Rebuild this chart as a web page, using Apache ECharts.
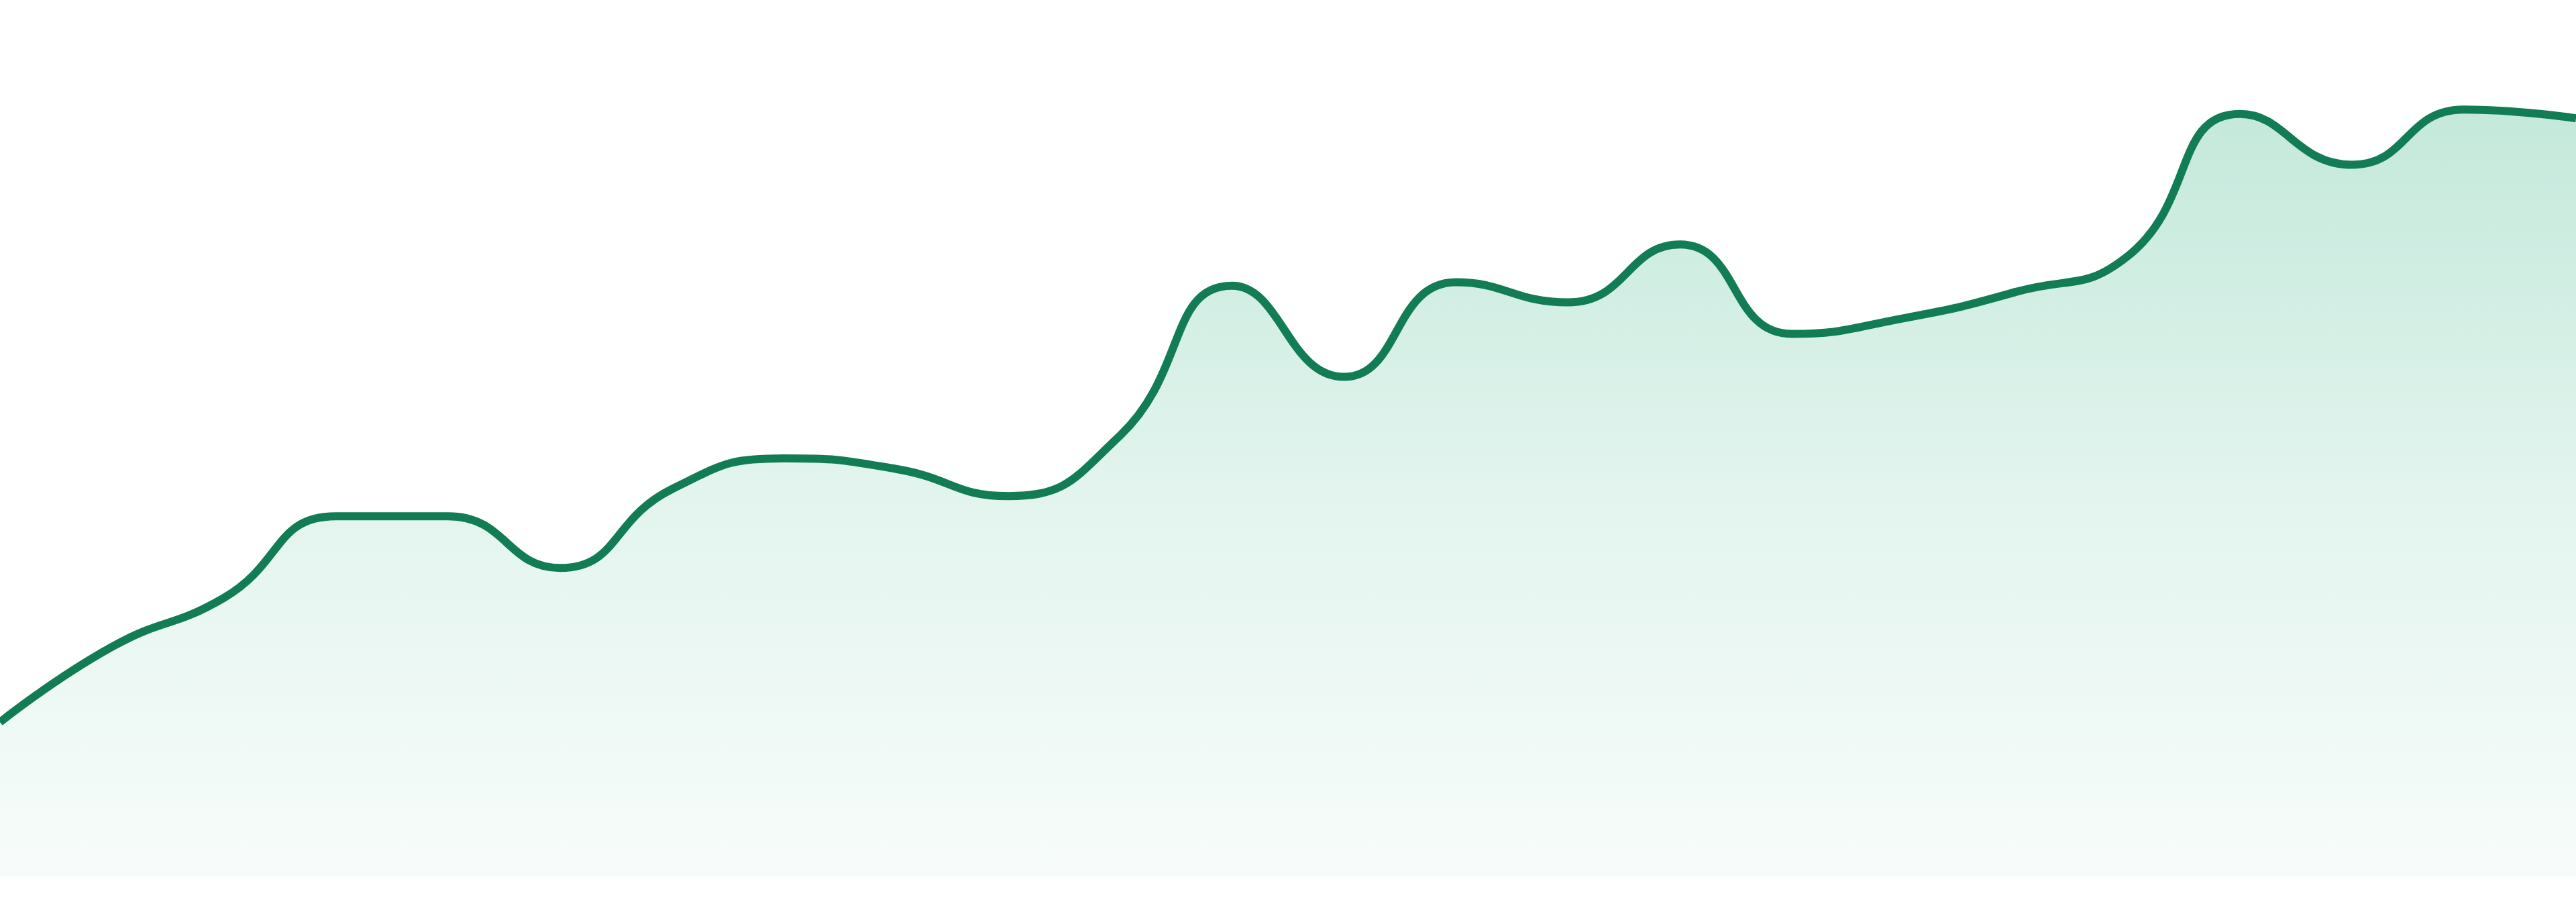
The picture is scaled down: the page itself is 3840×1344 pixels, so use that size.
<!DOCTYPE html>
<html>
<head>
<meta charset="utf-8">
<style>
html,body{margin:0;padding:0;background:#ffffff;}
#chart{width:3840px;height:1344px;}
</style>
<script src="https://cdn.jsdelivr.net/npm/echarts@6/dist/echarts.min.js"></script>
</head>
<body>
<div id="chart"></div>
<script>
var categories = ['1','2','3','4','5','6','7','8','9','10','11','12','13','14','15','16','17','18','19','20','21','22','23','24'];
var values = [17.6, 26.2, 31.8, 41.1, 41.1, 35.2, 44.2, 47.7, 46.5, 43.4, 50.3, 67.4, 57.0, 67.8, 65.5, 72.1, 61.9, 63.7, 66.7, 70.8, 87.0, 81.2, 87.5, 86.5];

var chart = echarts.init(document.getElementById('chart'), null, {renderer: 'canvas'});
chart.setOption({
  animation: false,
  backgroundColor: '#ffffff',
  grid: {left: 0, right: 0, top: 0, bottom: 38, containLabel: false},
  xAxis: {
    type: 'category',
    data: categories,
    boundaryGap: false,
    show: false
  },
  yAxis: {
    type: 'value',
    min: 0,
    max: 100,
    show: false,
    splitLine: {show: false}
  },
  series: [{
    type: 'line',
    data: values,
    smooth: 0.5,
    symbol: 'none',
    lineStyle: {color: '#127d54', width: 12},
    areaStyle: {
      color: new echarts.graphic.LinearGradient(0, 0, 0, 1, [
        {offset: 0, color: 'rgba(0,160,100,0.335)'},
        {offset: 0.5, color: 'rgba(0,160,100,0.162)'},
        {offset: 1, color: 'rgba(0,160,100,0.045)'}
      ])
    }
  }]
});
</script>
</body>
</html>
